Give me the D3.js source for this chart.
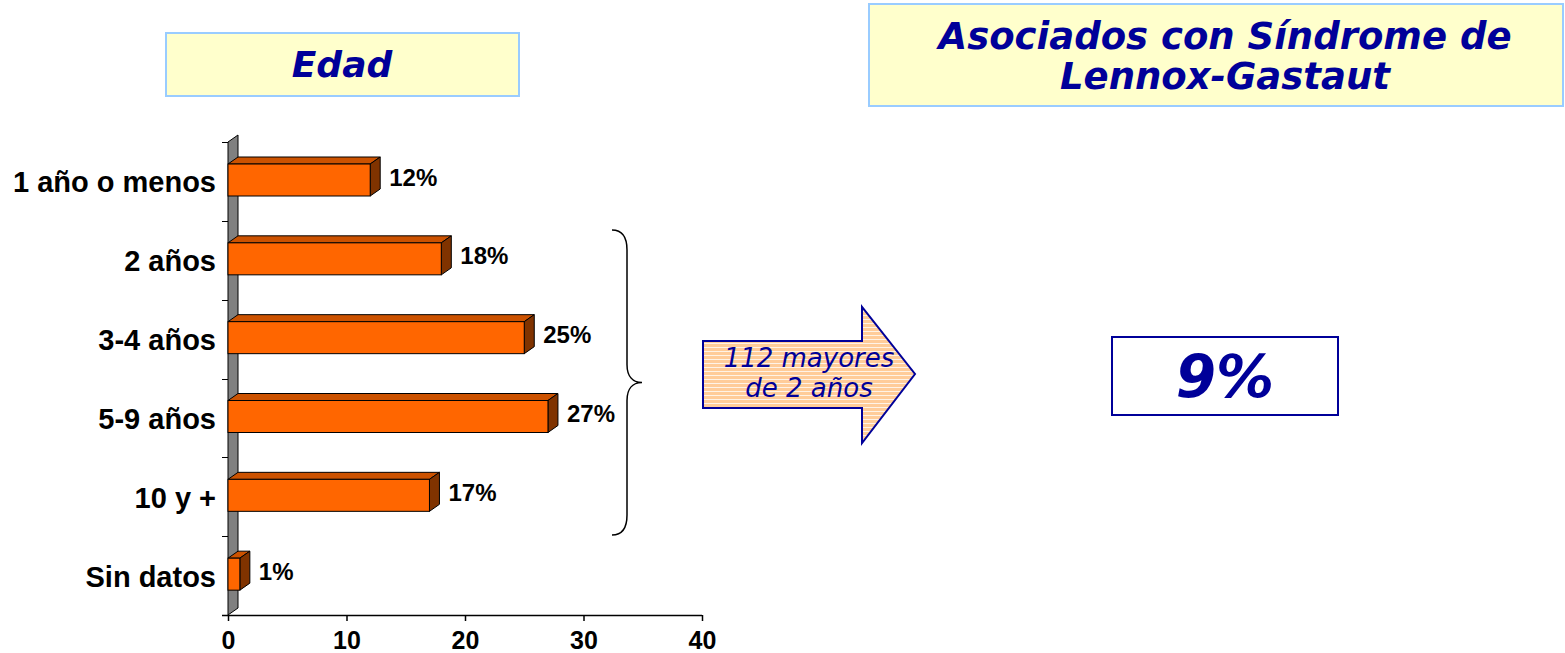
<!DOCTYPE html>
<html>
<head>
<meta charset="utf-8">
<script src="https://cdn.jsdelivr.net/npm/d3@7"></script>
<style>
  html, body { margin: 0; padding: 0; background: #fff; }
  svg { display: block; }
</style>
</head>
<body>
<svg id="chart" width="1565" height="653"></svg>
<script>
// Age distribution (percent of patients)
const categories = ["1 año o menos", "2 años", "3-4 años", "5-9 años", "10 y +", "Sin datos"];
const values = [12, 18, 25, 27, 17, 1];
const xTicks = [0, 10, 20, 30, 40];

const leftTitle = "Edad";
const rightTitle = ["Asociados con Síndrome de", "Lennox-Gastaut"];
const arrowText = ["112 mayores", "de 2 años"];
const lgsShare = "9%";

const BLUE = "#000099";
const svg = d3.select("#chart");

const defs = svg.append("defs");
const stripes = defs.append("pattern")
  .attr("id", "stripes").attr("patternUnits", "userSpaceOnUse")
  .attr("width", 8).attr("height", 4);
stripes.append("rect").attr("width", 8).attr("height", 4).attr("fill", "#FFCC99");
stripes.append("rect").attr("y", 3).attr("width", 8).attr("height", 1).attr("fill", "#FFF3E6");

// Scales
const x = d3.scaleLinear().domain([0, 40]).range([228, 702]);
const y = d3.scaleBand().domain(categories).range([142, 615]);
const depthX = 10, depthY = -7;
const barH = 32, barOffset = 22;

// Title boxes
function titleBox(bx, by, bw, bh, lines, cx, cy, lh, fs) {
  const g = svg.append("g");
  g.append("rect").attr("x", bx).attr("y", by).attr("width", bw).attr("height", bh)
    .attr("fill", "#FFFFCC").attr("stroke", "#99CCFF").attr("stroke-width", 2);
  g.selectAll("text").data(lines).join("text")
    .attr("x", cx).attr("y", (d, i) => cy + i * lh)
    .attr("text-anchor", "middle").attr("dominant-baseline", "central")
    .attr("font-family", "DejaVu Sans").attr("font-weight", "bold").attr("font-style", "italic")
    .attr("font-size", fs).attr("fill", BLUE)
    .text(d => d);
}
titleBox(166, 33, 353, 63, [leftTitle], 342, 64, 0, 36);
titleBox(869, 4, 694, 102, rightTitle, 1225, 36, 40, 37);

// Back wall of the 3D bar chart
const wallTop = y.range()[0], wallBottom = y.range()[1];
svg.append("path")
  .attr("d", `M${x(0)},${wallTop} L${x(0) + depthX},${wallTop + depthY} L${x(0) + depthX},${wallBottom + depthY} L${x(0)},${wallBottom} Z`)
  .attr("fill", "#808080").attr("stroke", "#000").attr("stroke-width", 1);

// Category ticks on the value wall
const bounds = categories.map(c => y(c)).concat([wallBottom]);
svg.append("g").selectAll("line").data(bounds).join("line")
  .attr("x1", x(0) - 6).attr("x2", x(0))
  .attr("y1", d => Math.round(d) + 0.5).attr("y2", d => Math.round(d) + 0.5)
  .attr("stroke", "#000").attr("stroke-width", 1);

// Bars
const bars = svg.append("g").selectAll("g").data(values).join("g");
bars.each(function(v, i) {
  const g = d3.select(this);
  const x0 = x(0), x1 = x(v);
  const top = y(categories[i]) + barOffset;
  g.append("path")
    .attr("d", `M${x0},${top} L${x0 + depthX},${top + depthY} L${x1 + depthX},${top + depthY} L${x1},${top} Z`)
    .attr("fill", "#CC5200").attr("stroke", "#000").attr("stroke-width", 1);
  g.append("path")
    .attr("d", `M${x1},${top} L${x1 + depthX},${top + depthY} L${x1 + depthX},${top + barH + depthY} L${x1},${top + barH} Z`)
    .attr("fill", "#803300").attr("stroke", "#000").attr("stroke-width", 1);
  g.append("rect")
    .attr("x", x0).attr("y", top).attr("width", x1 - x0).attr("height", barH)
    .attr("fill", "#FF6600").attr("stroke", "#000").attr("stroke-width", 1);
  g.append("text")
    .attr("x", x1 + depthX + 9).attr("y", top + barH / 2 - 3)
    .attr("dominant-baseline", "central")
    .attr("font-family", "Liberation Sans, Arial").attr("font-weight", "bold")
    .attr("font-size", 24).attr("fill", "#000")
    .text(v + "%");
});

// Category labels
svg.append("g").selectAll("text").data(categories).join("text")
  .attr("x", 216).attr("y", d => y(d) + y.bandwidth() / 2 + 1)
  .attr("text-anchor", "end").attr("dominant-baseline", "central")
  .attr("font-family", "Liberation Sans, Arial").attr("font-weight", "bold")
  .attr("font-size", 29).attr("fill", "#000")
  .text(d => d);

// Value axis
const xAxis = svg.append("g")
  .attr("transform", `translate(0,${wallBottom})`)
  .call(d3.axisBottom(x).tickValues(xTicks).tickSize(6).tickPadding(10).tickSizeOuter(0));
xAxis.select(".domain").attr("d", `M${x(0) - 6},0.5H${x(40)}`).attr("stroke", "#000").attr("stroke-width", 1.5);
xAxis.selectAll(".tick line").attr("stroke", "#000").attr("stroke-width", 1.5);
xAxis.selectAll(".tick text")
  .attr("font-family", "Liberation Sans, Arial").attr("font-weight", "bold")
  .attr("font-size", 25).attr("fill", "#000");

// Brace grouping the ages over 2
const bTop = 230, bBot = 535, bMid = (bTop + bBot) / 2, bx = 627;
svg.append("path")
  .attr("d", `M612,${bTop} C622,${bTop} ${bx},${bTop + 6} ${bx},${bTop + 20}
              L${bx},${bMid - 18} C${bx},${bMid - 6} ${bx + 6},${bMid} ${bx + 15},${bMid}
              C${bx + 6},${bMid} ${bx},${bMid + 6} ${bx},${bMid + 18}
              L${bx},${bBot - 20} C${bx},${bBot - 6} 622,${bBot} 612,${bBot}`)
  .attr("fill", "none").attr("stroke", "#000").attr("stroke-width", 1.5);

// Arrow
svg.append("path")
  .attr("d", "M703,341 L862,341 L862,307 L915,374 L862,443 L862,408 L703,408 Z")
  .attr("fill", "url(#stripes)").attr("stroke", BLUE).attr("stroke-width", 2)
  .attr("stroke-linejoin", "miter");
svg.append("g").selectAll("text").data(arrowText).join("text")
  .attr("x", 809).attr("y", (d, i) => 358 + i * 30)
  .attr("text-anchor", "middle").attr("dominant-baseline", "central")
  .attr("font-family", "DejaVu Sans").attr("font-style", "italic")
  .attr("font-size", 26).attr("fill", BLUE)
  .text(d => d);

// Share box
svg.append("rect").attr("x", 1112).attr("y", 337).attr("width", 226).attr("height", 78)
  .attr("fill", "#fff").attr("stroke", BLUE).attr("stroke-width", 2);
svg.append("text")
  .attr("x", 1225).attr("y", 377)
  .attr("text-anchor", "middle").attr("dominant-baseline", "central")
  .attr("font-family", "DejaVu Sans").attr("font-weight", "bold").attr("font-style", "italic")
  .attr("font-size", 58).attr("fill", BLUE)
  .text(lgsShare);
</script>
</body>
</html>
